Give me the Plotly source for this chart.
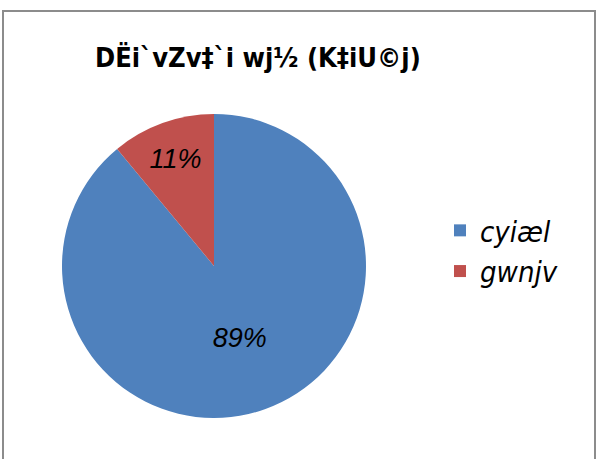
import plotly.graph_objects as go

title_text = "DËi`vZv‡`i wj½ (K‡iU©j)"
labels = ["cyiæl", "gwnjv"]
values = [89, 11]
colors = ["#4F81BD", "#C0504D"]

W, H = 598, 459
COND = "DejaVu Sans Condensed, Liberation Sans Narrow, Liberation Sans"

fig = go.Figure(go.Pie(
    labels=labels,
    values=values,
    sort=False,
    direction="clockwise",
    rotation=0,
    marker=dict(colors=colors, line=dict(width=0)),
    textinfo="percent",
    textposition="inside",
    insidetextorientation="horizontal",
    texttemplate="<i>%{percent:.0%}</i>",
    textfont=dict(family="Liberation Sans", size=27, color="black"),
    domain=dict(x=[62 / W, 366 / W], y=[1 - 418 / H, 1 - 114 / H]),
    hoverinfo="skip",
))

fig.update_layout(
    width=W, height=H,
    margin=dict(l=0, r=0, t=0, b=0),
    paper_bgcolor="white",
    plot_bgcolor="white",
    title=dict(
        text="<b>" + title_text + "</b>",
        x=95 / W, xanchor="left", xref="paper",
        y=1 - 58 / H, yanchor="middle", yref="paper",
        font=dict(family=COND, size=27, color="black"),
    ),
    legend=dict(
        x=440 / W, xanchor="left",
        y=1 - 205 / H, yanchor="top",
        font=dict(family=COND, size=29, color="black", style="italic"),
        itemsizing="constant",
        bgcolor="rgba(0,0,0,0)",
    ),
    shapes=[dict(
        type="rect", xref="paper", yref="paper",
        x0=3 / W, x1=595 / W, y0=-0.05, y1=1 - 11 / H,
        line=dict(color="#8c8c8c", width=2),
        fillcolor="rgba(0,0,0,0)", layer="below",
    )],
)

fig.write_html("out.html", config={"displayModeBar": False},
               post_script="document.body.style.margin='0';document.body.style.padding='0';")
